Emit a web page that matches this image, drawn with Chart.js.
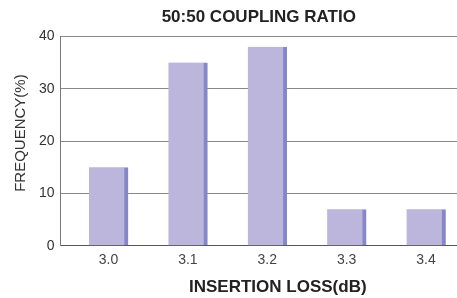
<!DOCTYPE html>
<html><head><meta charset="utf-8">
<script src="https://cdn.jsdelivr.net/npm/chart.js@4"></script>
<style>html,body{margin:0;padding:0;background:#fff}#wrap{width:457px;height:298px}</style>
</head><body><div id="wrap"><canvas id="c" width="457" height="298"></canvas></div>
<script>
const categories = ['3.0','3.1','3.2','3.3','3.4'];
const frequency = [15, 35, 38, 7, 7];
const yTicks = [0, 10, 20, 30, 40];
const titleText = '50:50 COUPLING RATIO';
const xTitle = 'INSERTION LOSS(dB)';
const yTitle = 'FREQUENCY(%)';

const xVals = categories.map(Number);
const font = "'Liberation Sans', Arial, sans-serif";

// shift an axis title slightly off-centre, as in the reference
function shiftTitle(dx, dy) {
  return scale => {
    if (scale._shiftWrapped) return;
    scale._shiftWrapped = true;
    const orig = scale.drawTitle;
    scale.drawTitle = function () {
      const s = {l: this.left, r: this.right, t: this.top, b: this.bottom};
      this.left += dx; this.right += dx; this.top += dy; this.bottom += dy;
      orig.call(this);
      this.left = s.l; this.right = s.r; this.top = s.t; this.bottom = s.b;
    };
  };
}

new Chart(document.getElementById('c'), {
  type: 'bar',
  data: {
    datasets: [{
      data: xVals.map((x, i) => ({x: x, y: frequency[i]})),
      backgroundColor: '#bcb5dc',
      borderColor: '#8686c8',
      borderWidth: {left: 0, right: 4, top: 0, bottom: 0},
      borderSkipped: false,
      barThickness: 39
    }]
  },
  options: {
    responsive: false,
    animation: false,
    layout: {padding: {left: 8, right: 0, top: 2, bottom: 0}},
    plugins: {
      legend: {display: false},
      tooltip: {enabled: false},
      title: {
        display: true, text: titleText, color: '#222', fullSize: false,
        font: {family: font, size: 17, weight: 'bold'},
        padding: {top: 5, bottom: 9}
      }
    },
    scales: {
      x: {
        type: 'linear', min: 2.9396, max: 3.439, offset: false,
        afterBuildTicks: axis => { axis.ticks = xVals.map(v => ({value: v})); },
        afterFit: shiftTitle(19, 0),
        grid: {display: false, drawTicks: false, offset: false},
        border: {display: true, color: '#555', width: 1},
        ticks: {color: '#444', font: {family: font, size: 14}, padding: 6,
          callback: v => Number(v).toFixed(1)},
        title: {display: true, text: xTitle, color: '#222',
          font: {family: font, size: 17, weight: 'bold'}, padding: {top: 3, bottom: 0}}
      },
      y: {
        min: 0, max: 40,
        afterBuildTicks: axis => { axis.ticks = yTicks.map(v => ({value: v})); },
        afterFit: shiftTitle(0, -8),
        grid: {color: '#888', drawTicks: false},
        border: {display: true, color: '#777', width: 1},
        ticks: {color: '#333', font: {family: font, size: 14}, padding: 6},
        title: {display: true, text: yTitle, color: '#333',
          font: {family: font, size: 15}, padding: {top: 4, bottom: 3}}
      }
    }
  }
});
</script></body></html>
